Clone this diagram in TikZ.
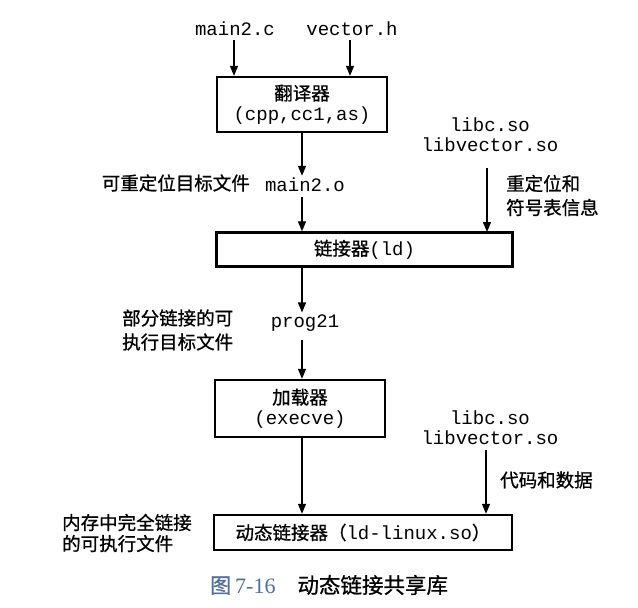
\documentclass[tikz,border=0pt]{standalone}
\usepackage{fontspec}
\setmainfont{Liberation Serif}
\setmonofont{Liberation Mono}
\newfontfamily\cjk[FakeBold=0.8]{Noto Sans CJK SC}
\usetikzlibrary{arrows.meta}
\definecolor{capblue}{RGB}{80,110,150}
\tikzset{
  box/.style={draw, line width=2.4pt, fill=white, inner sep=0pt, align=center},
  mono/.style={font=\fontsize{19}{20}\selectfont\ttfamily, inner sep=2pt, align=center},
  zh/.style={font=\fontsize{18.5}{24}\selectfont\cjk, inner sep=0pt, align=left},
  flow/.style={-{Triangle[length=10pt,width=8pt]}, line width=1.3pt},
}
\begin{document}
\begin{tikzpicture}[x=1pt,y=-1pt]
\useasboundingbox[fill=white] (0,0) rectangle (638,608);

% inputs
\node[mono] (m2c) at (235,29) {main2.c};
\node[mono] (vh) at (352,29) {vector.h};

% translator box
\node[box, minimum width=170pt, minimum height=55pt] (b1) at (302,104.5)
  {{\fontsize{18.5}{22}\selectfont\cjk 翻译器}\\[4pt]{\fontsize{19}{20}\selectfont\ttfamily (cpp,cc1,as)}};

\draw[flow] (m2c.south -| 234,0) ++(0,2) coordinate (m2cs) -- (m2cs |- b1.north);
\draw[flow] (vh.south -| 350,0) ++(0,2) coordinate (vhs) -- (vhs |- b1.north);

% relocatable object
\node[mono] (mo) at (305,185) {main2.o};
\node[zh, anchor=east] (molab) at (250,183) {可重定位目标文件};
\draw[flow] (b1.south) -- (b1.south |- mo.north);

% libraries 1
\node[mono] (lib1) at (490,135) {libc.so\\libvector.so};
\coordinate (lib1s) at (487,168);
\draw[flow] (lib1s) -- (lib1s |- 0,232);
\node[zh, anchor=west] (lib1lab) at (506,195.5) {重定位和\\符号表信息};

% linker box
\node[box, minimum width=296pt, minimum height=34pt] (b2) at (364.5,249.5)
  {{\fontsize{18.5}{22}\selectfont\cjk 链接器}{\fontsize{19}{20}\selectfont\ttfamily (ld)}};

\draw[flow] (302,197) coordinate (mos) -- (mos |- b2.north);

% prog21
\node[mono] (p21) at (305,323) {prog21};
\node[zh, anchor=west] (p21lab) at (122,330) {部分链接的可\\执行目标文件};
\draw[flow] (302,267) coordinate (b2s) -- (b2s |- p21.north);

% loader box
\node[box, minimum width=170pt, minimum height=57pt] (b3) at (300,408.5)
  {{\fontsize{18.5}{22}\selectfont\cjk 加载器}\\[4pt]{\fontsize{19}{20}\selectfont\ttfamily (execve)}};
\draw[flow] (302,340) coordinate (p21s) -- (p21s |- b3.north);

% libraries 2
\node[mono] (lib2) at (490,428) {libc.so\\libvector.so};

% dynamic linker box
\node[box, minimum width=298pt, minimum height=35pt] (b4) at (363,532.5)
  {{\fontsize{18.5}{22}\selectfont\cjk 动态链接器（}{\fontsize{19}{20}\selectfont\ttfamily ld-linux.so}{\fontsize{18.5}{22}\selectfont\cjk ）}};
\draw[flow] (302,437) coordinate (b3s) -- (b3s |- b4.north);
\coordinate (lib2s) at (486,450);
\draw[flow] (lib2s) -- (lib2s |- b4.north);
\node[zh, anchor=west] (lib2lab) at (500,480) {代码和数据};
\node[zh, anchor=west, font=\fontsize{18.5}{21}\selectfont\cjk] (b4lab) at (62,533) {内存中完全链接\\的可执行文件};

% caption
\node[inner sep=0pt, anchor=west] (cap) at (210,585)
  {{\color{capblue}{\fontsize{21}{22}\selectfont\cjk 图}\hspace{4pt}{\fontsize{22}{22}\selectfont 7-16}}\hspace{22pt}{\fontsize{21.5}{22}\selectfont\cjk 动态链接共享库}};
\end{tikzpicture}
\end{document}
